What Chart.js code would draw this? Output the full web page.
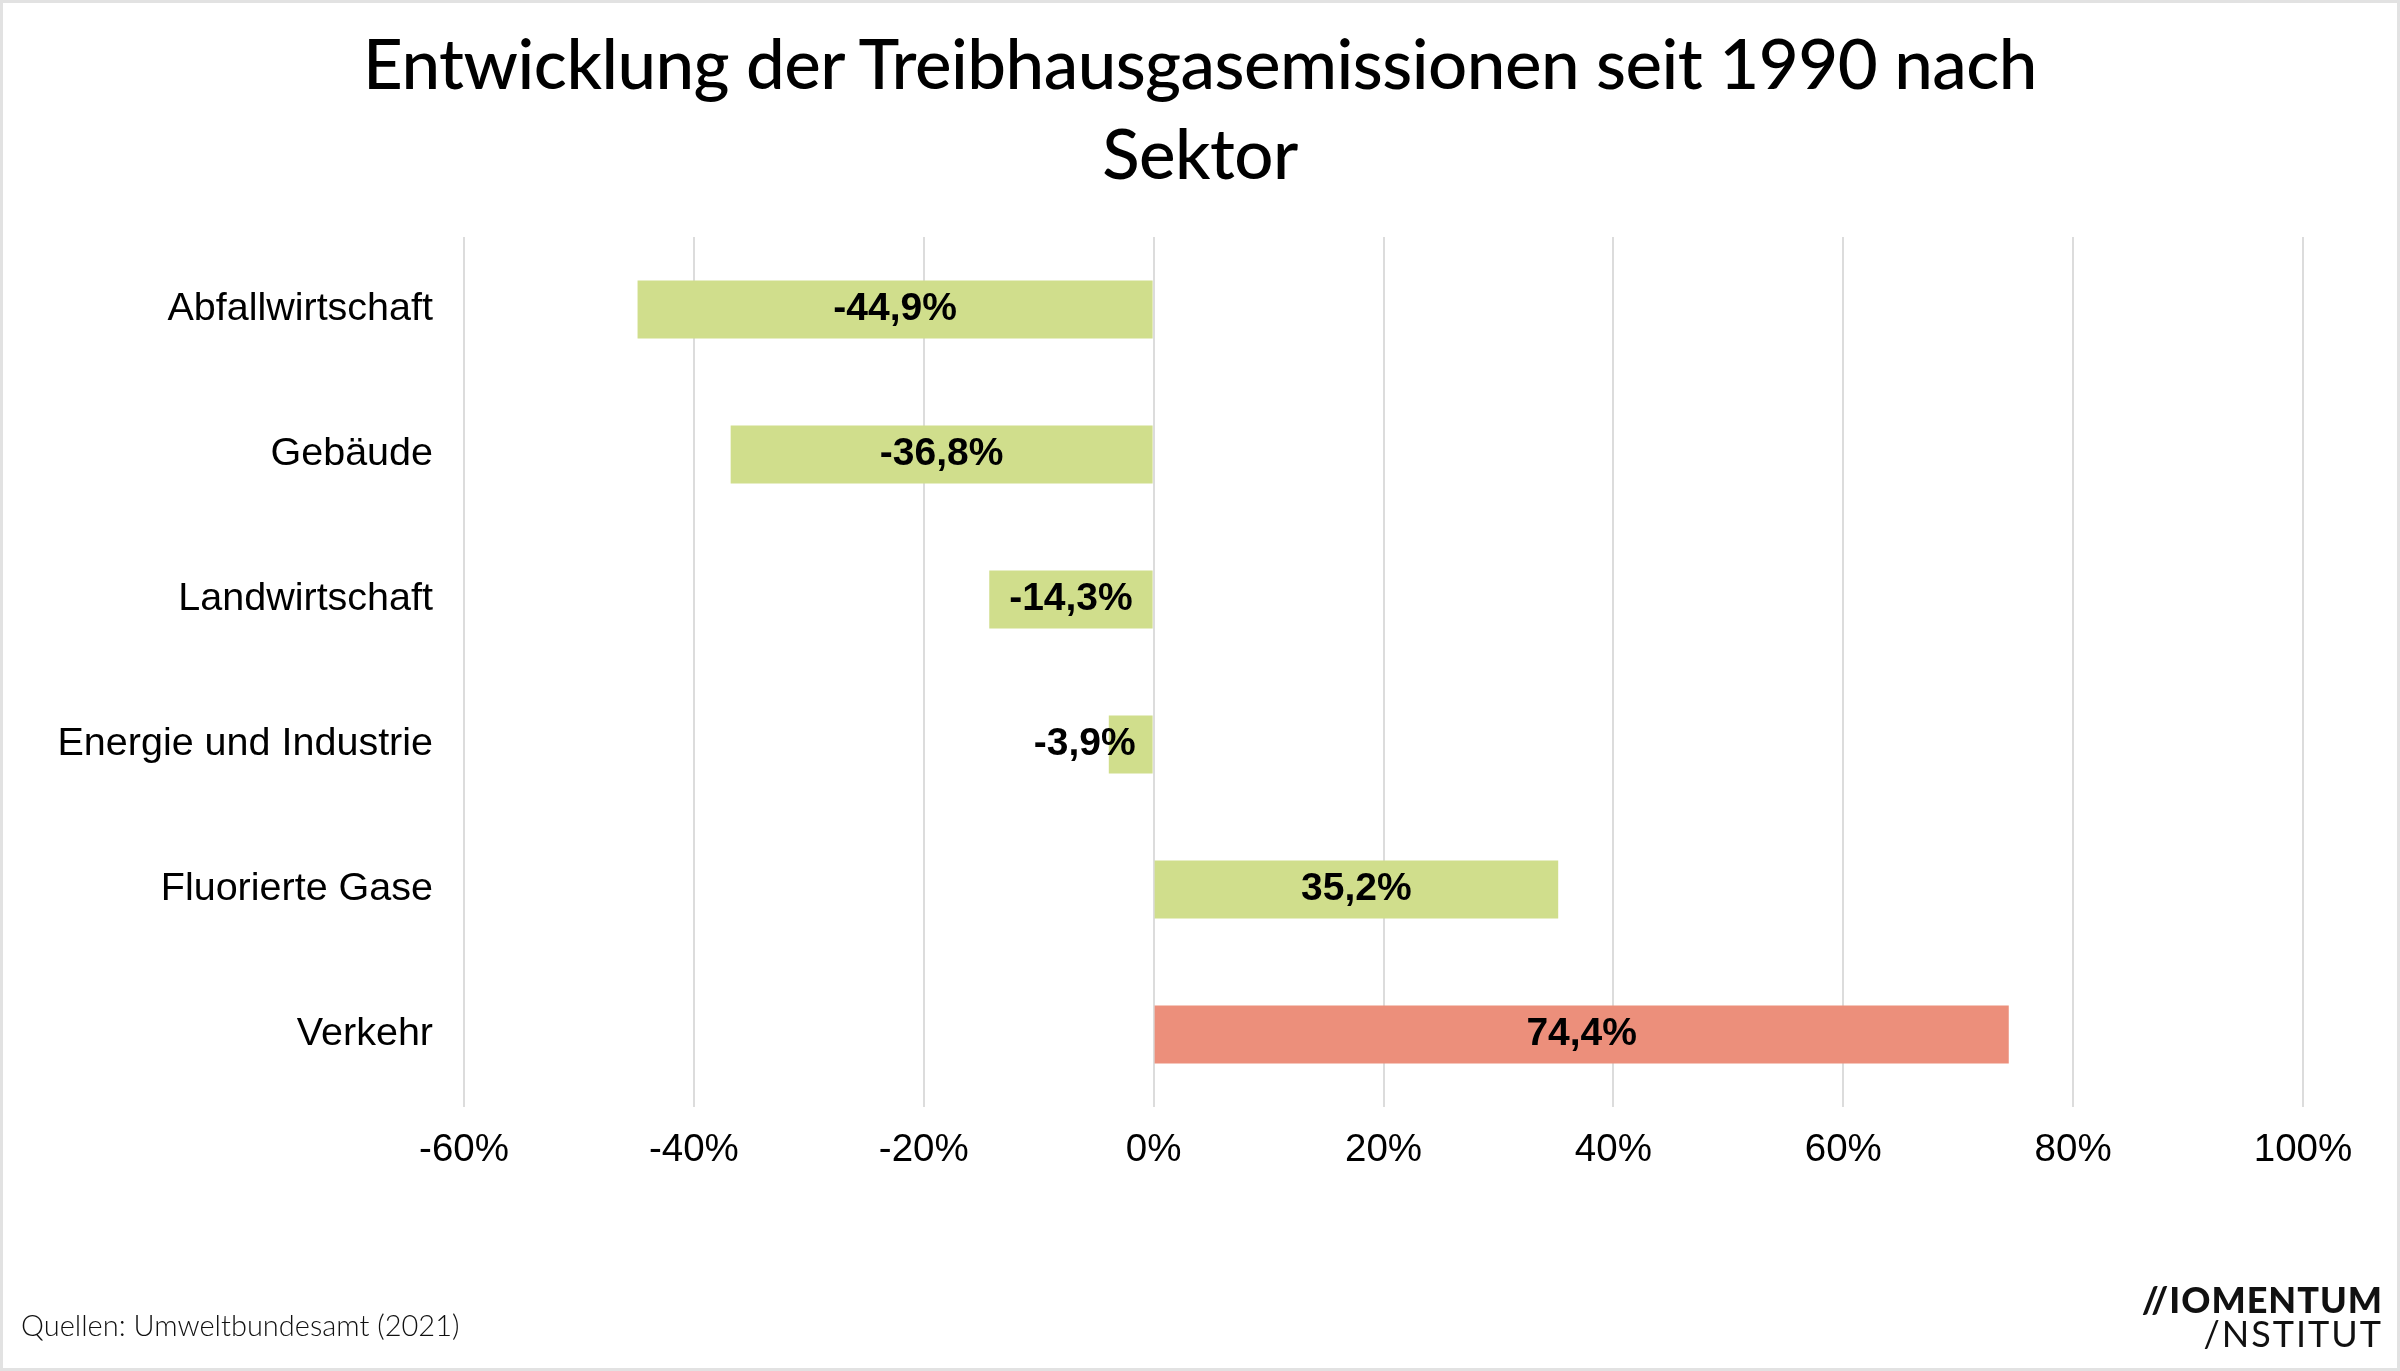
<!DOCTYPE html>
<html>
<head>
<meta charset="utf-8">
<script src="https://cdn.jsdelivr.net/npm/chart.js@4/dist/chart.umd.min.js"></script>
<style>
    body { margin: 0; background: #fff; }
    #wrap { position: relative; width: 2400px; height: 1371px; }
    #frame { position: absolute; left: 0; top: 0; right: 0; bottom: 0; border: 3px solid #e2e2e2; pointer-events: none; }
    #title { position: absolute; left: 0; width: 2400px; top: 18px; text-align: center; font-family: 'Lato', sans-serif; font-weight: 500; font-size: 69px; line-height: 90px; color: #000; letter-spacing: -0.5px; }
    #source { position: absolute; left: 21px; top: 1307px; font-family: 'Lato', sans-serif; font-weight: 300; font-size: 29px; color: #111; }
    #logo { position: absolute; right: 17px; top: 1282px; text-align: right; font-family: 'Lato', sans-serif; color: #111; line-height: 34px; }
    #logo .l1 { font-weight: 900; font-size: 36px; letter-spacing: 1px; }
    #logo .l2 { font-weight: 400; font-size: 36px; letter-spacing: 2px; }
</style>
</head>
<body>
<div id="wrap">
    <canvas id="emissionsChart" width="2400" height="1371"></canvas>
    <div id="title">Entwicklung der Treibhausgasemissionen seit 1990 nach<br>Sektor</div>
    <div id="source">Quellen: Umweltbundesamt (2021)</div>
    <div id="logo"><div class="l1">//IOMENTUM</div><div class="l2">/NSTITUT</div></div>
    <div id="frame"></div>
</div>
<script>
// Sectors and change since 1990 (%)
const sectors = ['Abfallwirtschaft', 'Gebäude', 'Landwirtschaft', 'Energie und Industrie', 'Fluorierte Gase', 'Verkehr'];
const changes = [-44.9, -36.8, -14.3, -3.9, 35.2, 74.4];
const barColors = ['#d0de8c', '#d0de8c', '#d0de8c', '#d0de8c', '#d0de8c', '#ec8f7b'];
const xTicks = [-60, -40, -20, 0, 20, 40, 60, 80, 100];

const labelFont = "'Liberation Sans', Arial, sans-serif";

// Value labels inside the bars
const barLabels = {
    id: 'barLabels',
    afterDatasetsDraw(chart) {
        const ctx = chart.ctx;
        const meta = chart.getDatasetMeta(0);
        ctx.save();
        ctx.font = 'bold 39px ' + labelFont;
        ctx.fillStyle = '#000';
        ctx.textBaseline = 'middle';
        meta.data.forEach((bar, i) => {
            const text = changes[i].toFixed(1).replace('.', ',') + '%';
            const w = ctx.measureText(text).width;
            const barW = Math.abs(bar.x - bar.base);
            if (w > barW) {
                // too narrow: put the label just left of the zero line
                ctx.textAlign = 'right';
                ctx.fillText(text, bar.base - 17, bar.y);
            } else {
                ctx.textAlign = 'center';
                ctx.fillText(text, (bar.x + bar.base) / 2, bar.y);
            }
        });
        ctx.restore();
    }
};

new Chart(document.getElementById('emissionsChart'), {
    type: 'bar',
    data: {
        labels: sectors,
        datasets: [{
            data: changes,
            backgroundColor: barColors,
            barPercentage: 0.8,
            categoryPercentage: 0.5
        }]
    },
    options: {
        indexAxis: 'y',
        responsive: false,
        animation: false,
        layout: { padding: { left: 0, right: 97, top: 237, bottom: 184 } },
        plugins: {
            legend: { display: false },
            tooltip: { enabled: false }
        },
        scales: {
            x: {
                min: -60,
                max: 100,
                afterBuildTicks: scale => { scale.ticks = xTicks.map(v => ({ value: v })); },
                afterFit: scale => { scale.height = 80; },
                grid: { color: '#dcdcdc', lineWidth: 2, drawTicks: false },
                border: { display: false },
                ticks: {
                    padding: 20,
                    color: '#000',
                    font: { family: labelFont, size: 38.5 },
                    callback: v => v + '%'
                }
            },
            y: {
                afterFit: scale => { scale.width = 464; },
                grid: { display: false, drawTicks: false },
                border: { display: false },
                ticks: {
                    padding: 31,
                    color: '#000',
                    font: { family: labelFont, size: 39.5 }
                }
            }
        }
    },
    plugins: [barLabels]
});
</script>
</body>
</html>
